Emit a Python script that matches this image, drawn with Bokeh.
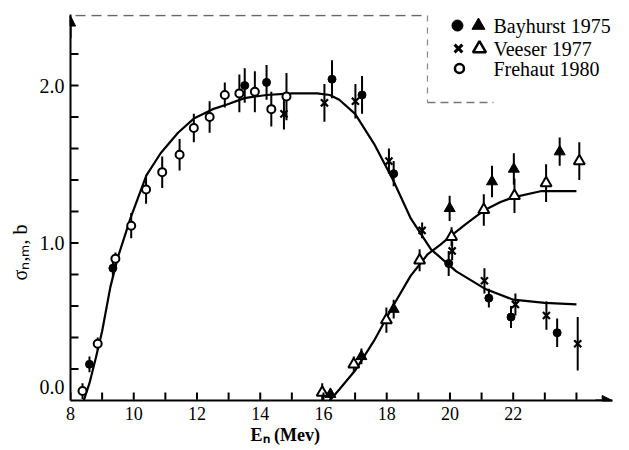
import math
from bokeh.plotting import figure
from bokeh.models import Range1d, FixedTicker, Label, Arrow, NormalHead, PrintfTickFormatter, ColumnDataSource
from bokeh.embed import file_html
from bokeh.resources import INLINE

# ---------------- data ----------------
# Frehaut 1980 (open circles)
frehaut_x = [8.38, 8.86, 9.42, 9.92, 10.39, 10.90, 11.45, 11.90, 12.40, 12.88, 13.34, 13.83, 14.35, 14.83]
frehaut_y = [0.06, 0.36, 0.90, 1.11, 1.34, 1.45, 1.56, 1.73, 1.80, 1.94, 1.95, 1.96, 1.85, 1.93]
frehaut_err = [0.05, 0.04, 0.04, 0.08, 0.09, 0.10, 0.10, 0.09, 0.10, 0.08, 0.12, 0.13, 0.11, 0.15]

# Bayhurst 1975 (filled circles)
bay_c_x = [8.60, 9.34, 13.51, 14.20, 16.27, 17.22, 18.22, 19.96, 21.23, 21.93, 23.39]
bay_c_y = [0.23, 0.84, 2.00, 2.02, 2.04, 1.94, 1.44, 0.87, 0.65, 0.53, 0.43]
bay_c_err = [0.05, 0.06, 0.11, 0.11, 0.12, 0.12, 0.08, 0.08, 0.06, 0.07, 0.09]

# Veeser 1977 (crosses)
vee_x_x = [14.75, 16.03, 17.01, 18.07, 19.12, 20.07, 21.09, 22.07, 23.05, 24.04]
vee_x_y = [1.82, 1.89, 1.90, 1.52, 1.08, 0.95, 0.76, 0.61, 0.54, 0.36]
vee_x_err = [0.10, 0.12, 0.11, 0.08, 0.05, 0.06, 0.08, 0.07, 0.09, 0.17]

# Bayhurst 1975 (filled triangles)
bay_t_x = [16.22, 17.20, 18.22, 19.99, 21.33, 22.02, 23.47]
bay_t_y = [0.04, 0.28, 0.58, 1.22, 1.39, 1.47, 1.58]
bay_t_err = [0.03, 0.05, 0.06, 0.08, 0.10, 0.10, 0.09]

# Veeser 1977 (open triangles)
vee_t_x = [15.96, 16.96, 17.99, 19.04, 20.05, 21.07, 22.04, 23.04, 24.09]
vee_t_y = [0.05, 0.23, 0.51, 0.89, 1.04, 1.21, 1.30, 1.38, 1.52]
vee_t_err = [0.06, 0.05, 0.08, 0.07, 0.06, 0.10, 0.11, 0.12, 0.12]

# drawn curves
curve1_x = [8.42, 8.60, 8.80, 9.00, 9.26, 9.50, 9.90, 10.40, 10.85, 11.40, 11.90, 12.50, 12.95, 13.50,
            14.20, 15.00, 15.80, 16.20, 16.50, 17.00, 17.60, 18.20, 18.75, 19.40, 20.20, 21.10, 22.00,
            23.00, 24.00]
curve1_y = [0.00, 0.11, 0.27, 0.44, 0.72, 0.91, 1.16, 1.43, 1.57, 1.70, 1.79, 1.85, 1.88, 1.92,
            1.94, 1.95, 1.95, 1.94, 1.91, 1.82, 1.63, 1.40, 1.16, 0.96, 0.82, 0.71, 0.64,
            0.62, 0.61]
curve2_x = [16.20, 16.50, 17.00, 17.60, 18.20, 18.75, 19.30, 19.70, 20.00, 20.50, 21.10, 21.60, 22.00,
            22.90, 24.00]
curve2_y = [0.00, 0.07, 0.19, 0.38, 0.60, 0.79, 0.93, 0.99, 1.04, 1.12, 1.21, 1.26, 1.29,
            1.33, 1.33]

x_major = [8, 10, 12, 14, 16, 18, 20, 22]
x_minor = [9, 11, 13, 15, 17, 19, 21, 23, 24]
y_major = [0.0, 1.0, 2.0]
y_minor = [0.2, 0.4, 0.6, 0.8, 1.2, 1.4, 1.6, 1.8, 2.2]

legend_labels = ["Bayhurst 1975", "Veeser 1977", "Frehaut 1980"]
x_title = "Eₙ (Mev)"
y_title = "σₙ,ₘ, b"

# ---------------- figure ----------------
X0, X1 = 8.0, 25.14
Y0, Y1 = 0.0, 2.451
PXU = 31.625   # px per MeV
PYU = 157.5    # px per barn

def dx(px):  # picture px -> data x
    return X0 + (px - 70) / PXU

def dy(py):  # picture px -> data y
    return (400 - py) / PYU

NB = "\u00a0"
p = figure(width=629, height=450, output_backend="svg", toolbar_location=None,
           x_range=Range1d(X0, X1), y_range=Range1d(Y0, Y1),
           min_border_left=70, min_border_right=17, min_border_top=14, min_border_bottom=50)
p.xgrid.visible = False
p.ygrid.visible = False
p.outline_line_color = None
p.background_fill_color = "white"

SERIF = "Liberation Serif"
for ax in (p.xaxis[0], p.yaxis[0]):
    ax.axis_line_width = 2
    ax.axis_line_color = "black"
    ax.major_tick_in = 0
    ax.major_tick_out = 0
    ax.minor_tick_in = 0
    ax.minor_tick_out = 0
    ax.major_label_text_font = SERIF
    ax.major_label_text_color = "black"
    ax.axis_label_text_font = SERIF
    ax.axis_label_text_color = "black"

p.xaxis[0].ticker = FixedTicker(ticks=x_major, minor_ticks=x_minor)
p.xaxis[0].formatter = PrintfTickFormatter(format="%d")
p.xaxis[0].major_label_text_font_size = "18px"
p.xaxis[0].major_label_standoff = 6
p.xaxis[0].axis_label = x_title + NB * 25
p.xaxis[0].axis_label_text_font_size = "18px"
p.xaxis[0].axis_label_text_font_style = "bold"
p.xaxis[0].axis_label_standoff = 2

p.yaxis[0].ticker = FixedTicker(ticks=y_major, minor_ticks=y_minor)
p.yaxis[0].formatter = PrintfTickFormatter(format="%.1f")
p.yaxis[0].major_label_overrides = {0: "0.0\n" + NB}
p.yaxis[0].major_label_text_font_size = "20px"
p.yaxis[0].major_label_standoff = 6
p.yaxis[0].axis_label = y_title + NB * 18
p.yaxis[0].axis_label_text_font_size = "20px"
p.yaxis[0].axis_label_text_font_style = "normal"
p.yaxis[0].axis_label_standoff = 6

# arrows on axes
p.add_layout(Arrow(end=NormalHead(size=10, fill_color="black", line_color="black"),
                   x_start=24.6, y_start=0, x_end=X1 - 0.01, y_end=0, line_width=2, line_color="black"))
p.add_layout(Arrow(end=NormalHead(size=10, fill_color="black", line_color="black"),
                   x_start=X0 + 0.002, y_start=2.3, x_end=X0 + 0.002, y_end=Y1 - 0.01,
                   line_width=2, line_color="black"))

# faint dashed box (legend frame remnant)
p.line([dx(75), dx(427)], [dy(15), dy(15)], line_color="#666666", line_width=1.5, line_dash="10 6")
p.line([dx(427), dx(427)], [dy(15), dy(102)], line_color="#888888", line_width=1.2, line_dash="6 6")
p.line([dx(427), dx(493)], [dy(102), dy(102)], line_color="#777777", line_width=1.5, line_dash="8 5")

# curves
p.line(curve1_x, curve1_y, line_color="black", line_width=2.2)
p.line(curve2_x, curve2_y, line_color="black", line_width=2.2)

# error bars
def bars(xs, ys, es):
    p.segment(x0=xs, y0=[y - e for y, e in zip(ys, es)], x1=xs, y1=[y + e for y, e in zip(ys, es)],
              line_color="black", line_width=2)

bars(frehaut_x, frehaut_y, frehaut_err)
bars(bay_c_x, bay_c_y, bay_c_err)
bars(vee_x_x, vee_x_y, vee_x_err)
bars(bay_t_x, bay_t_y, bay_t_err)
bars(vee_t_x, vee_t_y, vee_t_err)

# markers
p.scatter(frehaut_x, frehaut_y, marker="circle", size=8, fill_color="white", line_color="black", line_width=2)
p.scatter(bay_c_x, bay_c_y, marker="circle", size=8, fill_color="black", line_color="black")
p.scatter(vee_x_x, vee_x_y, marker="x", size=10, line_color="black", line_width=2.2)
p.scatter(bay_t_x, bay_t_y, marker="triangle", size=11, fill_color="black", line_color="black")
p.scatter(vee_t_x, vee_t_y, marker="triangle", size=11, fill_color="white", line_color="black", line_width=2)

# inward ticks (drawn inside the plot area)
TX = 8.0 / PYU   # tick length along y, data units
TY = 8.0 / PXU   # tick length along x, data units
xt = [float(v) for v in x_major + x_minor]
xtick_src = ColumnDataSource(dict(x0=xt, y0=[0.004] * len(xt), x1=xt, y1=[TX] * len(xt)))
p.segment(x0="x0", y0="y0", x1="x1", y1="y1", source=xtick_src, line_color="black", line_width=2)
yt = [float(v) for v in y_major[1:] + y_minor]
ytick_src = ColumnDataSource(dict(x0=[X0 + 0.01] * len(yt), y0=yt, x1=[X0 + TY] * len(yt), y1=yt))
p.segment(x0="x0", y0="y0", x1="x1", y1="y1", source=ytick_src, line_color="black", line_width=2)

# legend
rows_y = [dy(25), dy(48), dy(68)]
p.scatter([dx(457)], [rows_y[0]], marker="circle", size=11, fill_color="black", line_color="black")
p.scatter([dx(478)], [rows_y[0]], marker="triangle", size=13, fill_color="black", line_color="black")
p.scatter([dx(458)], [rows_y[1]], marker="x", size=11, line_color="black", line_width=3)
p.scatter([dx(479)], [rows_y[1]], marker="triangle", size=13, fill_color="white", line_color="black", line_width=2.5)
p.scatter([dx(459)], [rows_y[2]], marker="circle", size=9, fill_color="white", line_color="black", line_width=2.5)
for lab, yy in zip(legend_labels, rows_y):
    p.add_layout(Label(x=dx(493), y=yy, text=lab, text_font=SERIF, text_font_size="20px",
                       text_align="left", text_baseline="middle", text_color="black"))

open("out.html", "w").write(file_html(p, INLINE))
